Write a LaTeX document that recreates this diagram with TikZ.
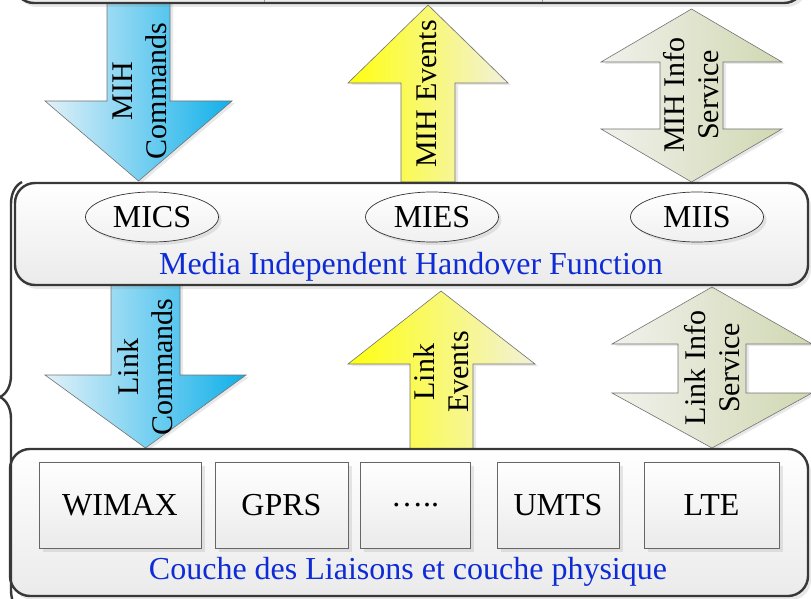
\documentclass[tikz,border=0pt]{standalone}
\usepackage{fontspec}
\setmainfont{Liberation Serif}
\usepackage{xcolor}
\usepackage{tikz}
\usetikzlibrary{shapes,arrows,positioning,fit,calc,shadows,decorations.pathreplacing}

\definecolor{mihblue}{RGB}{14,44,214}
\definecolor{cmdlight}{RGB}{226,241,248}
\definecolor{cmddark}{RGB}{16,176,234}
\definecolor{evtlight}{RGB}{255,255,16}
\definecolor{evtdark}{RGB}{242,241,218}
\definecolor{infolight}{RGB}{241,241,236}
\definecolor{infodark}{RGB}{208,216,178}

\begin{document}
\begin{tikzpicture}[x=1pt, y=-1pt,
  layer/.style={draw=black!78, line width=2.4pt, rounded corners=20pt,
    top color=white, bottom color=black!8,
    drop shadow={shadow xshift=3pt, shadow yshift=-4pt, opacity=.18}},
  techbox/.style={draw=black!60, line width=0.8pt, top color=white, bottom color=black!8,
    minimum width=#1, minimum height=86pt, inner sep=0pt,
    font=\fontsize{32}{34}\selectfont,
    drop shadow={shadow xshift=4pt, shadow yshift=-4pt, opacity=.18}},
  sap/.style={ellipse, draw=black!80, line width=0.7pt, top color=white, bottom color=black!6,
    minimum width=133pt, minimum height=50pt, inner sep=0pt,
    font=\fontsize{32}{34}\selectfont,
    drop shadow={shadow xshift=3pt, shadow yshift=-3pt, opacity=.18}},
  blockarrow/.style={draw=black!55, line width=0.6pt,
    drop shadow={shadow xshift=3pt, shadow yshift=-2pt, opacity=.18}},
  arrowtext/.style={rotate=90, align=center, inner sep=0pt,
    font=\fontsize{30}{34}\selectfont},
  layertext/.style={text=mihblue, font=\fontsize{32}{34}\selectfont}
]
\clip (0,0) rectangle (811,599);

% Service access arrows between upper layers and MIHF (y runs downward, 1pt = 1px)
\shade[blockarrow, left color=cmdlight, right color=cmddark]
  (107,-2) -- (170,-2) -- (170,101) -- (232,101) -- (138.5,181) -- (45,101) -- (107,101) -- cycle;
\shade[blockarrow, left color=evtlight, right color=evtdark]
  (428,5) -- (508,83) -- (455,83) -- (455,182) -- (401,182) -- (401,83) -- (348,83) -- cycle;
\shade[blockarrow, left color=infolight, right color=infodark]
  (691.5,9) -- (782,62) -- (723,62) -- (723,129) -- (782,129) -- (691.5,182)
  -- (601,129) -- (660,129) -- (660,62) -- (601,62) -- cycle;

% Arrows between MIHF and the link layer
\shade[blockarrow, left color=cmdlight, right color=cmddark]
  (111,283) -- (180,283) -- (180,375) -- (246,375) -- (145.5,448) -- (45,375) -- (111,375) -- cycle;
\shade[blockarrow, left color=evtlight, right color=evtdark]
  (441,291) -- (535,364) -- (473,364) -- (473,449) -- (410,449) -- (410,364) -- (348,364) -- cycle;
\shade[blockarrow, left color=infolight, right color=infodark]
  (712,287) -- (812,344) -- (746,344) -- (746,393) -- (812,393) -- (712,448)
  -- (612,393) -- (678,393) -- (678,344) -- (612,344) -- cycle;

\node[arrowtext] (mihcmd)  at (140,91)  {MIH\\Commands};
\node[arrowtext] (mihevt)  at (427,94)  {MIH Events};
\node[arrowtext] (mihinfo) at (691,95)  {MIH Info\\Service};
\node[arrowtext] (lnkcmd)  at (145,367) {Link\\Commands};
\node[arrowtext] (lnkevt)  at (441,372) {Link\\Events};
\node[arrowtext] (lnkinfo) at (712,368) {Link Info\\Service};

% Upper layer (cut off at the top)
\draw[layer] (14,-60) rectangle (804,3);
\foreach \x in {264, 542}
  \draw[black!40, line width=1pt] (\x,-60) -- (\x,2);

% MIH function
\draw[layer] (15,183) rectangle (808,285);
\foreach \name/\cx/\txt in {mics/152/MICS, mies/432/MIES, miis/697/MIIS}
  \node[sap] (\name) at (\cx,217) {\txt};
\node[layertext] (mihf) at (411,267) {Media Independent Handover Function};

% Link and physical layers
\draw[layer] (10,449) rectangle (808,596);
\foreach \name/\cx/\w/\txt in {wimax/120/162/WIMAX, gprs/281.5/133/GPRS, dots/415/110/{…..},
    umts/558/122/UMTS, lte/711.5/135/LTE}
  \node[techbox=\w pt] (\name) at (\cx,505) {\txt};
\node[layertext] (phy) at (408,572) {Couche des Liaisons et couche physique};

% Brace grouping MIHF and lower layers
\draw[black!78, line width=2.4pt, decorate, decoration={brace, amplitude=22pt}]
  (22,612) -- (22,182);
\end{tikzpicture}
\end{document}
